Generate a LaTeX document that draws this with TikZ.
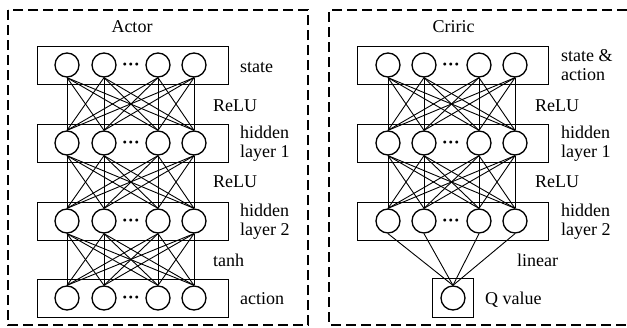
\documentclass[tikz,border=0pt]{standalone}
\usepackage{fontspec}
\setmainfont{Liberation Serif}
\begin{document}
\begin{tikzpicture}[x=1pt,y=-1pt,
  neuron/.style={circle,draw,line width=1.3pt,minimum size=24pt,inner sep=0pt},
  layerbox/.style={draw,line width=0.9pt,minimum width=191pt,minimum height=38pt,inner sep=0pt},
  qbox/.style={draw,line width=0.9pt,minimum width=41pt,minimum height=39pt,inner sep=0pt},
  lbl/.style={font=\fontsize{18}{19}\selectfont,anchor=base west,inner sep=0pt},
  lbl2/.style={font=\fontsize{18}{19}\selectfont,anchor=west,inner sep=0pt,align=left},
  ttl/.style={font=\fontsize{18}{19}\selectfont,anchor=base,inner sep=0pt},
  dotsnode/.style={font=\fontsize{18}{19}\selectfont\bfseries,anchor=base,inner sep=0pt},
  conn/.style={line width=0.9pt},
  frame/.style={line width=1.1pt,dash pattern=on 10pt off 5pt}]
\useasboundingbox (0,0) rectangle (627,327);
% frames
\draw[frame] (8,10) rectangle (308,325);
\draw[frame] (627,10) -- (329,10) -- (329,325) -- (627,325);
% titles
\node[ttl] (tactor) at (132,32) {Actor};
\node[ttl] (tcritic) at (453.5,32) {Criric};
% actor layers
\foreach \l/\y in {a/65,b/143,c/221,d/298} {
  \node[layerbox] (\l box) at (132.5,\y) {};
  \foreach \i/\x in {1/67,2/104,3/158,4/194}
    \node[neuron] (\l\i) at (\x,\y) {};
  \node[dotsnode] (\l dots) at (131,\y+5) {···};
}
\foreach \u/\v in {a/b,b/c,c/d}
  \foreach \i in {1,...,4}
    \foreach \j in {1,...,4}
      \draw[conn] (\u\i.south) -- (\v\j.north);
% critic layers
\foreach \l/\y in {p/65,q/143,r/221} {
  \node[layerbox] (\l box) at (452.5,\y) {};
  \foreach \i/\x in {1/388,2/424,3/479,4/515}
    \node[neuron] (\l\i) at (\x,\y) {};
  \node[dotsnode] (\l dots) at (451,\y+5) {···};
}
\node[qbox] (sbox) at (452.5,297.5) {};
\node[neuron] (s1) at (453,298) {};
\foreach \u/\v in {p/q,q/r}
  \foreach \i in {1,...,4}
    \foreach \j in {1,...,4}
      \draw[conn] (\u\i.south) -- (\v\j.north);
\foreach \i in {1,...,4}
  \draw[conn] (r\i.south) -- (s1.north);
% actor labels
\node[lbl] (la) at (240,72.5) {state};
\node[lbl] (lr1) at (213,111) {ReLU};
\node[lbl2] (lh1) at (240,144) {hidden\\layer 1};
\node[lbl] (lr2) at (213,187) {ReLU};
\node[lbl2] (lh2) at (240,222) {hidden\\layer 2};
\node[lbl] (lt) at (213,266) {tanh};
\node[lbl] (lact) at (240,304) {action};
% critic labels
\node[lbl2] (lsa) at (561,65) {state \&\\action};
\node[lbl] (cr1) at (535,111) {ReLU};
\node[lbl2] (ch1) at (561,144) {hidden\\layer 1};
\node[lbl] (cr2) at (535,187) {ReLU};
\node[lbl2] (ch2) at (561,222) {hidden\\layer 2};
\node[lbl] (clin) at (517,266) {linear};
\node[lbl] (cq) at (485,304) {Q value};
\end{tikzpicture}
\end{document}
